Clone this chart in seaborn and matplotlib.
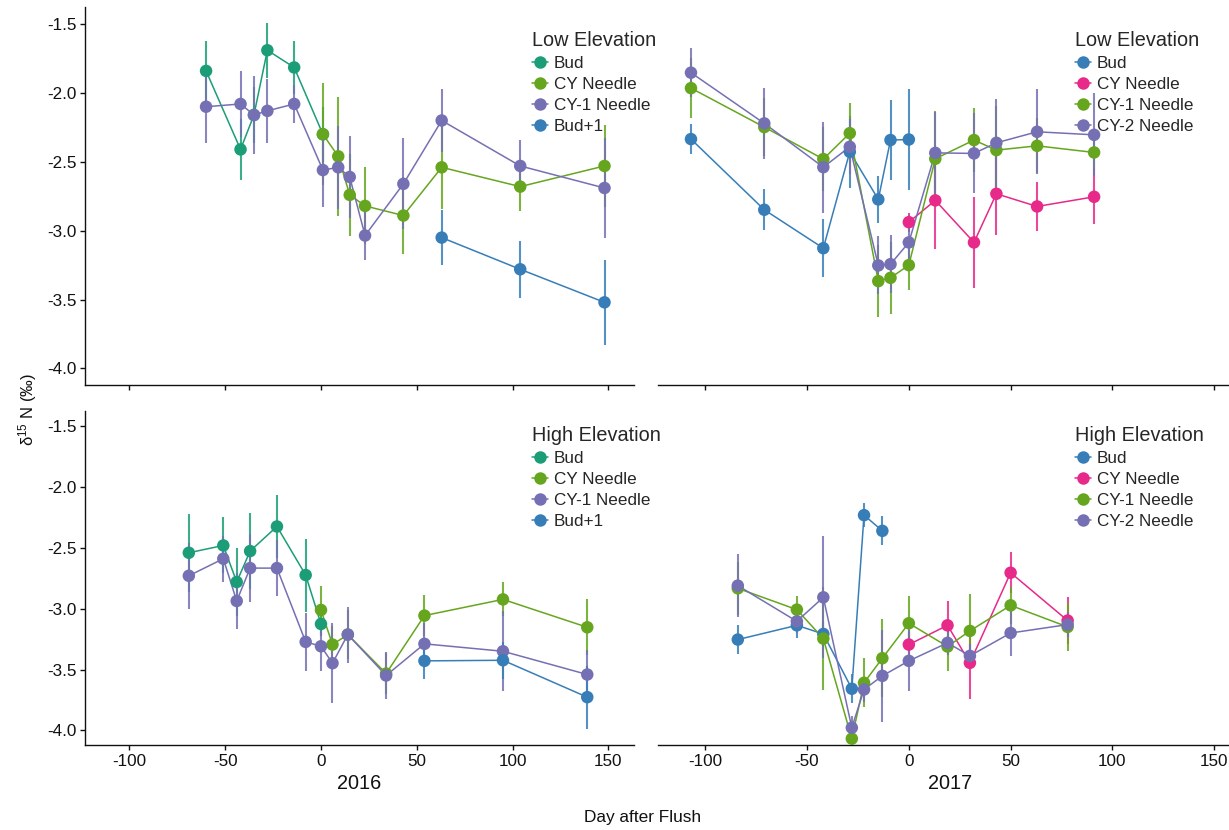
import numpy as np
import pandas as pd
import matplotlib
matplotlib.use("Agg")
import matplotlib.pyplot as plt
import seaborn as sns
from matplotlib.lines import Line2D

# ---------------------------------------------------------------------------
# d15N (per mil) of bud and needle cohorts, mean and error, by day after flush
# ---------------------------------------------------------------------------

# 2016, low elevation
low16_bud_day = [-60, -42, -35, -28, -14, 1]
low16_bud_val = [-1.84, -2.41, -2.16, -1.69, -1.815, -2.30]
low16_bud_err = [0.22, 0.22, 0.20, 0.20, 0.19, 0.20]
low16_cy_day = [1, 9, 15, 23, 43, 63, 104, 148]
low16_cy_val = [-2.30, -2.46, -2.74, -2.82, -2.89, -2.54, -2.68, -2.53]
low16_cy_err = [0.37, 0.43, 0.30, 0.28, 0.28, 0.30, 0.18, 0.30]
low16_cy1_day = [-60, -42, -35, -28, -14, 1, 9, 15, 23, 43, 63, 104, 148]
low16_cy1_val = [-2.10, -2.08, -2.16, -2.13, -2.08, -2.56, -2.54, -2.61,
                 -3.035, -2.66, -2.20, -2.53, -2.69]
low16_cy1_err = [0.26, 0.24, 0.28, 0.23, 0.14, 0.27, 0.30, 0.30,
                 0.18, 0.33, 0.23, 0.19, 0.36]
low16_bud1_day = [63, 104, 148]
low16_bud1_val = [-3.05, -3.28, -3.52]
low16_bud1_err = [0.20, 0.205, 0.31]

# 2017, low elevation
low17_bud_day = [-107, -71, -42, -29, -15, -9, 0]
low17_bud_val = [-2.335, -2.848, -3.127, -2.427, -2.773, -2.342, -2.338]
low17_bud_err = [0.11, 0.15, 0.21, 0.26, 0.17, 0.29, 0.37]
low17_cy_day = [0, 13, 32, 43, 63, 91]
low17_cy_val = [-2.938, -2.78, -3.085, -2.732, -2.824, -2.754]
low17_cy_err = [0.07, 0.35, 0.33, 0.30, 0.18, 0.20]
low17_cy1_day = [-107, -71, -42, -29, -15, -9, 0, 13, 32, 43, 63, 91]
low17_cy1_val = [-1.965, -2.248, -2.48, -2.292, -3.366, -3.342, -3.25,
                 -2.478, -2.342, -2.415, -2.384, -2.432]
low17_cy1_err = [0.22, 0.21, 0.23, 0.22, 0.26, 0.26, 0.18,
                 0.35, 0.23, 0.32, 0.20, 0.13]
low17_cy2_day = [-107, -71, -42, -29, -15, -9, 0, 13, 32, 43, 63, 91]
low17_cy2_val = [-1.853, -2.221, -2.539, -2.391, -3.252, -3.243, -3.085,
                 -2.435, -2.439, -2.362, -2.282, -2.304]
low17_cy2_err = [0.18, 0.26, 0.33, 0.20, 0.21, 0.21, 0.20,
                 0.30, 0.29, 0.32, 0.31, 0.30]

# 2016, high elevation
high16_bud_day = [-69, -51, -44, -37, -23, -8, 0]
high16_bud_val = [-2.541, -2.481, -2.781, -2.527, -2.325, -2.724, -3.126]
high16_bud_err = [0.32, 0.23, 0.28, 0.31, 0.26, 0.30, 0.10]
high16_cy_day = [0, 6, 14, 34, 54, 95, 139]
high16_cy_val = [-3.011, -3.295, -3.213, -3.533, -3.057, -2.924, -3.153]
high16_cy_err = [0.20, 0.15, 0.20, 0.17, 0.17, 0.14, 0.23]
high16_cy1_day = [-69, -51, -44, -37, -23, -8, 0, 6, 14, 34, 54, 95, 139]
high16_cy1_val = [-2.73, -2.59, -2.937, -2.667, -2.667, -3.273, -3.309,
                  -3.448, -3.213, -3.549, -3.289, -3.35, -3.541]
high16_cy1_err = [0.27, 0.19, 0.23, 0.28, 0.23, 0.24, 0.20,
                  0.33, 0.23, 0.19, 0.17, 0.33, 0.20]
high16_bud1_day = [54, 95, 139]
high16_bud1_val = [-3.429, -3.424, -3.727]
high16_bud1_err = [0.15, 0.15, 0.26]

# 2017, high elevation
high17_bud_day = [-84, -55, -42, -28, -22, -13]
high17_bud_val = [-3.254, -3.137, -3.208, -3.658, -2.232, -2.361]
high17_bud_err = [0.12, 0.10, 0.10, 0.12, 0.10, 0.12]
high17_cy_day = [0, 19, 30, 50, 78]
high17_cy_val = [-3.295, -3.137, -3.445, -2.705, -3.098]
high17_cy_err = [0.10, 0.20, 0.30, 0.17, 0.19]
high17_cy1_day = [-84, -55, -42, -28, -22, -13, 0, 19, 30, 50, 78]
high17_cy1_val = [-2.833, -3.008, -3.246, -4.068, -3.609, -3.407, -3.12,
                  -3.311, -3.183, -2.973, -3.15]
high17_cy1_err = [0.22, 0.11, 0.42, 0.05, 0.20, 0.32, 0.22,
                  0.20, 0.30, 0.15, 0.20]
high17_cy2_day = [-84, -55, -42, -28, -22, -13, 0, 19, 30, 50, 78]
high17_cy2_val = [-2.811, -3.104, -2.907, -3.978, -3.664, -3.552, -3.429,
                  -3.281, -3.388, -3.2, -3.131]
high17_cy2_err = [0.26, 0.10, 0.50, 0.10, 0.10, 0.38, 0.25,
                  0.10, 0.10, 0.19, 0.10]

x_ticks = [-100, -50, 0, 50, 100, 150]
y_ticks = [-4.0, -3.5, -3.0, -2.5, -2.0, -1.5]
year_labels = ["2016", "2017"]

TEAL, GREEN, PURPLE, BLUE, PINK = "#1b9e77", "#66a61e", "#7570b3", "#377eb8", "#e7298a"
pal16 = {"Bud": TEAL, "CY Needle": GREEN, "CY-1 Needle": PURPLE, "Bud+1": BLUE}
pal17 = {"Bud": BLUE, "CY Needle": PINK, "CY-1 Needle": GREEN, "CY-2 Needle": PURPLE}

panels = [
    # (series dict, palette, legend title, column, row)
    ({"Bud": (low16_bud_day, low16_bud_val, low16_bud_err),
      "CY Needle": (low16_cy_day, low16_cy_val, low16_cy_err),
      "CY-1 Needle": (low16_cy1_day, low16_cy1_val, low16_cy1_err),
      "Bud+1": (low16_bud1_day, low16_bud1_val, low16_bud1_err)},
     pal16, "Low Elevation", 0, 0),
    ({"Bud": (low17_bud_day, low17_bud_val, low17_bud_err),
      "CY Needle": (low17_cy_day, low17_cy_val, low17_cy_err),
      "CY-1 Needle": (low17_cy1_day, low17_cy1_val, low17_cy1_err),
      "CY-2 Needle": (low17_cy2_day, low17_cy2_val, low17_cy2_err)},
     pal17, "Low Elevation", 1, 0),
    ({"Bud": (high16_bud_day, high16_bud_val, high16_bud_err),
      "CY Needle": (high16_cy_day, high16_cy_val, high16_cy_err),
      "CY-1 Needle": (high16_cy1_day, high16_cy1_val, high16_cy1_err),
      "Bud+1": (high16_bud1_day, high16_bud1_val, high16_bud1_err)},
     pal16, "High Elevation", 0, 1),
    ({"Bud": (high17_bud_day, high17_bud_val, high17_bud_err),
      "CY Needle": (high17_cy_day, high17_cy_val, high17_cy_err),
      "CY-1 Needle": (high17_cy1_day, high17_cy1_val, high17_cy1_err),
      "CY-2 Needle": (high17_cy2_day, high17_cy2_val, high17_cy2_err)},
     pal17, "High Elevation", 1, 1),
]

sns.set_theme(style="ticks")
plt.rcParams["font.family"] = ["Liberation Sans", "DejaVu Sans"]
plt.rcParams["mathtext.fontset"] = "custom"
plt.rcParams["mathtext.rm"] = "Liberation Sans"
plt.rcParams["mathtext.it"] = "Liberation Sans"

W, H = 1229, 830
fig = plt.figure(figsize=(W / 100, H / 100), dpi=100)


def px_axes(x0, y0, x1, y1):
    return fig.add_axes([x0 / W, 1 - y1 / H, (x1 - x0) / W, (y1 - y0) / H])


# panel boxes in pixels: columns (left, right), rows (top, bottom)
col_px = [(85, 634), (658, 1241.5)]
row_px = [(6.7, 385), (410.7, 745)]
legend_x = [532, 1075]
legend_top = [31, 426]

LW = 1.1
MS = 9

for series, pal, title, col, row in panels:
    x0, x1 = col_px[col]
    y0, y1 = row_px[row]
    ax = px_axes(x0, y0, x1, y1)
    order = list(series.keys())
    df = pd.concat(
        [pd.DataFrame({"day": d, "d15N": v, "se": e, "tissue": name})
         for name, (d, v, e) in series.items()],
        ignore_index=True,
    )
    for name in order:
        sub = df[df["tissue"] == name]
        ax.errorbar(sub["day"], sub["d15N"], yerr=sub["se"], fmt="none",
                    ecolor=pal[name], elinewidth=1.5, capsize=0, alpha=0.85, zorder=1)
    sns.lineplot(data=df, x="day", y="d15N", hue="tissue", hue_order=order,
                 palette=pal, estimator=None, sort=True, linewidth=LW,
                 legend=False, ax=ax, zorder=2)
    sns.scatterplot(data=df, x="day", y="d15N", hue="tissue", hue_order=order,
                    palette=pal, s=MS ** 2, linewidth=0, alpha=1,
                    legend=False, ax=ax, zorder=3)

    ax.set_xlim(-123.2, 163.4)
    ax.set_ylim(-4.12, -1.374)
    ax.set_xticks(x_ticks)
    ax.set_yticks(y_ticks)
    ax.set_yticklabels([f"{t:.1f}" for t in y_ticks])
    ax.set_xticklabels([str(t) for t in x_ticks])
    ax.set_xlabel("")
    ax.set_ylabel("")
    ax.set_facecolor("none")
    for s in ["top", "right"]:
        ax.spines[s].set_visible(False)
    for s in ["left", "bottom"]:
        ax.spines[s].set_linewidth(1.0)
        ax.spines[s].set_color("#111111")
    ax.tick_params(axis="both", direction="out", length=3.8, width=1.0,
                   color="#111111", labelsize=12.3, labelcolor="#111111", pad=2.5)
    if col == 1:
        ax.spines["left"].set_visible(False)
        ax.tick_params(axis="y", left=False, labelleft=False)
    if row == 0:
        ax.tick_params(axis="x", labelbottom=False)

    handles = [Line2D([0], [0], color=pal[n], lw=LW, marker="o", markersize=MS,
                      markeredgewidth=0) for n in order]
    ax.legend(handles, order, title=title, loc="upper left",
              bbox_to_anchor=(legend_x[col] / W, 1 - legend_top[row] / H),
              bbox_transform=fig.transFigure, frameon=False, borderpad=0,
              borderaxespad=0, handlelength=0.95, handletextpad=0.33,
              labelspacing=0.35, fontsize=12.3, title_fontsize=14.3,
              alignment="left")

    if row == 1:
        fig.text((x0 + x1) / 2 / W, 1 - 783 / H, year_labels[col],
                 ha="center", va="center", fontsize=14.3, color="#111111")

fig.text(643 / W, 1 - 817 / H, "Day after Flush", ha="center", va="center",
         fontsize=12.4, color="#111111")
fig.text(28 / W, 1 - 410 / H, r"δ$^{15}$ N (‰)", rotation=90, ha="center",
         va="center", fontsize=12, color="#111111")

fig.savefig("out.png", dpi=100)
